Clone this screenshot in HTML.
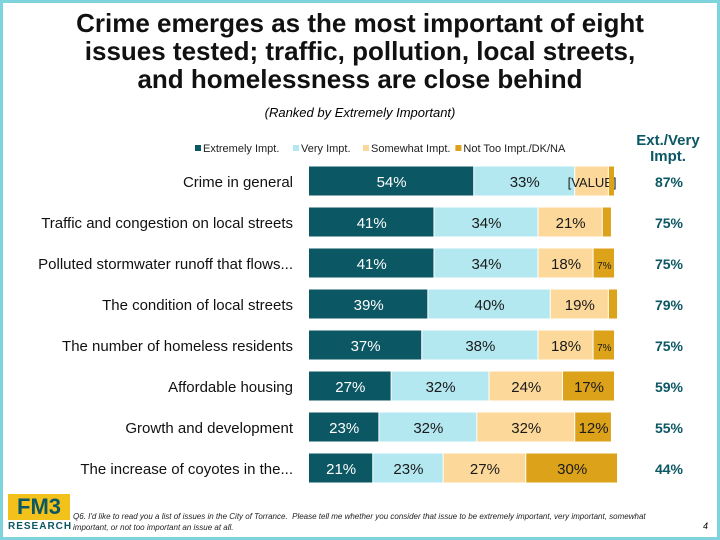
<!DOCTYPE html>
<html><head><meta charset="utf-8"><style>
body{margin:0;background:#fff}
#slide{position:relative;width:714px;height:534px;border:3px solid #7fd3dc;font-family:"Liberation Sans",sans-serif;overflow:hidden;background:#fff}
.t{position:absolute;white-space:nowrap}
</style></head><body>
<div id="slide">
<div class="t" style="left:0;width:714px;top:6px;text-align:center;font-size:26px;font-weight:bold;line-height:28px;color:#111">Crime emerges as the most important of eight<br>issues tested; traffic, pollution, local streets,<br>and homelessness are close behind</div>
<div class="t" style="left:0;width:714px;top:102px;text-align:center;font-size:13px;font-style:italic">(Ranked by Extremely Important)</div>
<div class="t" style="left:625px;width:80px;top:130px;text-align:center;font-size:15px;font-weight:bold;line-height:16px;color:#0b5763">Ext./Very<br>Impt.</div>
<svg id="chart" width="714" height="534" style="position:absolute;left:0;top:0"></svg>
<div class="t" style="left:5px;top:491px;width:62px;height:26px;background:#f2c21b;color:#0b5763;font-weight:bold;font-size:22px;text-align:center;line-height:26px">FM3</div>
<div class="t" style="left:5px;top:518px;font-size:10px;font-weight:bold;letter-spacing:1px;color:#0b5763">RESEARCH</div>
<div class="t" style="left:70px;top:508px;font-size:8px;font-style:italic;line-height:11px;color:#222">Q6. I'd like to read you a list of issues in the City of Torrance.&nbsp; Please tell me whether you consider that issue to be extremely important, very important, somewhat<br>important, or not too important an issue at all.</div>
<div class="t" style="left:700px;top:518px;font-size:9px;font-style:italic">4</div>
</div>
<script>
const categories=["Crime in general","Traffic and congestion on local streets","Polluted stormwater runoff that flows...","The condition of local streets","The number of homeless residents","Affordable housing","Growth and development","The increase of coyotes in the..."];
const extremely=[54,41,41,39,37,27,23,21];
const very=[33,34,34,40,38,32,32,23];
const somewhat=[11,21,18,19,18,24,32,27];
const notToo=[2,3,7,3,7,17,12,30];
const extVery=[87,75,75,79,75,59,55,44];
const seriesNames=["Extremely Impt.","Very Impt.","Somewhat Impt.","Not Too Impt./DK/NA"];
const colors=["#0b5763","#b3e8f1","#fcd99b","#dba21a"];
const textColors=["#fff","#1a1a1a","#1a1a1a","#1a1a1a"];
const NS="http://www.w3.org/2000/svg";
const svg=document.getElementById('chart');
const x0=306, pxPer=3.06, rowTop=178, rowStep=41, barH=29;
const xScale=v=>x0+v*pxPer;
const yScale=i=>rowTop+i*rowStep;
function el(tag,attrs){const e=document.createElementNS(NS,tag);for(const k in attrs)e.setAttribute(k,attrs[k]);svg.appendChild(e);return e;}
let lx=192;
seriesNames.forEach((n,s)=>{
  const r=el('rect',{x:lx,y:142,width:6,height:6,fill:colors[s]});
  
  
  const t=el('text',{x:lx+8,y:149,'font-size':11,fill:'#222'});
  t.textContent=n;
  
  
  lx+=8+n.length*5.6+6;
});
const series=[extremely,very,somewhat,notToo];
categories.forEach((c,i)=>{
  const y=yScale(i)-barH/2;
  const lab=el('text',{x:290,y:yScale(i)+6,'font-size':15,'text-anchor':'end',fill:'#111'});
  lab.textContent=c;
  
  
  let cum=0;
  series.forEach((arr,s)=>{
    const v=arr[i];
    const r=el('rect',{x:xScale(cum),y:y,width:Math.max(0,v*pxPer-1),height:barH,fill:colors[s]});
    
    
    if(v>=5){
      const t=el('text',{x:xScale(cum+v/2),y:yScale(i)+6,'font-size':v<10?10:15,'text-anchor':'middle',fill:textColors[s]});
      t.textContent=(i===0&&s===2)?'[VALUE]':v+'%';
      if(i===0&&s===2)t.setAttribute('font-size',13);
      
      
    }
    cum+=v;
  });
  const t=el('text',{x:666,y:yScale(i)+6,'font-size':14,'font-weight':'bold','text-anchor':'middle',fill:'#0b5763'});
  t.textContent=extVery[i]+'%';
  
  
});
</script>
</body></html>
